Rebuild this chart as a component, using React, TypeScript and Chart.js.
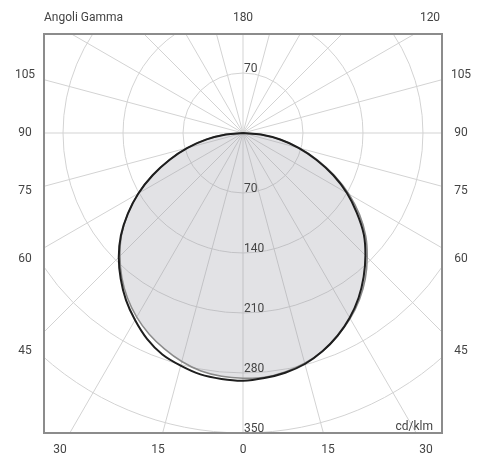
import React, { useEffect, useRef } from "react";
import { Chart, registerables } from "chart.js";

Chart.register(...registerables);

// Gamma angles (degrees from nadir)
const GAMMA = [0, 5, 10, 15, 20, 25, 30, 35, 40, 45, 50, 55, 60, 65, 70, 75, 80, 85, 90];
// Intensities in cd/klm
const BLACK_LEFT = [289, 288, 286, 281, 275, 265, 252, 238, 222, 205, 186, 164, 141, 116, 91, 67, 43, 20, 0];
const BLACK_RIGHT = [289, 287, 284, 279, 271, 261, 249, 235, 219, 202, 184, 162, 140, 116, 91, 67, 44, 21, 0];
const GRAY_LEFT = [286, 285, 282, 276, 268, 259, 248, 235, 220, 203, 185, 164, 141, 117, 92, 68, 44, 21, 0];
const GRAY_RIGHT = [286, 286, 283, 278, 271, 261, 250, 237, 222, 205, 187, 166, 143, 118, 93, 69, 45, 22, 0];

// Grid
const RING_VALUES = [70, 140, 210, 280, 350, 420, 490];
const RING_LABELS_BELOW = [70, 140, 210, 280, 350];
const RING_LABELS_ABOVE = [70];
const SPOKE_STEP = 15;
const SIDE_LABELS = [105, 90, 75, 60, 45];
const BOTTOM_LABELS = [-30, -15, 0, 15, 30];
const TOP_LABEL = "180";
const CORNER_LABEL = "120";
const CORNER_GAMMA = 120;
const TITLE = "Angoli Gamma";
const UNIT = "cd/klm";

// Axis ranges (cd/klm)
const X_MIN = -232.2;
const X_MAX = 232.2;
const Y_MIN = -350;
const Y_MAX = 115.5;

function buildCurve(left: number[], right: number[]) {
  const pts: { x: number; y: number }[] = [];
  for (let i = GAMMA.length - 1; i >= 0; i--) {
    const g = (GAMMA[i] * Math.PI) / 180;
    pts.push({ x: -left[i] * Math.sin(g), y: -left[i] * Math.cos(g) });
  }
  for (let i = 1; i < GAMMA.length; i++) {
    const g = (GAMMA[i] * Math.PI) / 180;
    pts.push({ x: right[i] * Math.sin(g), y: -right[i] * Math.cos(g) });
  }
  return pts;
}

const FONT = '12px Roboto, "DejaVu Sans", sans-serif';
const TEXT_COLOR = "#444";

const polarPlugin = {
  id: "polarGrid",
  beforeDatasetsDraw(chart: any) {
    const { ctx, chartArea: a, scales } = chart;
    const xs = scales.x;
    const ys = scales.y;
    const cx = xs.getPixelForValue(0);
    const cy = ys.getPixelForValue(0);
    const k = xs.getPixelForValue(1) - cx;
    ctx.save();
    ctx.beginPath();
    ctx.rect(a.left, a.top, a.right - a.left, a.bottom - a.top);
    ctx.clip();
    ctx.strokeStyle = "#d3d3d3";
    ctx.lineWidth = 1;
    for (const r of RING_VALUES) {
      ctx.beginPath();
      ctx.arc(cx, cy, r * k, 0, Math.PI * 2);
      ctx.stroke();
    }
    for (let g = 0; g < 360; g += SPOKE_STEP) {
      const t = (g * Math.PI) / 180;
      ctx.beginPath();
      ctx.moveTo(cx, cy);
      ctx.lineTo(cx + 1000 * Math.sin(t), cy + 1000 * Math.cos(t));
      ctx.stroke();
    }
    ctx.restore();
  },
  afterDatasetsDraw(chart: any) {
    const { ctx, chartArea: a, scales } = chart;
    const xs = scales.x;
    const ys = scales.y;
    const cx = xs.getPixelForValue(0);
    const cy = ys.getPixelForValue(0);
    const k = xs.getPixelForValue(1) - cx;
    ctx.save();
    // frame
    ctx.strokeStyle = "#8c8c8c";
    ctx.lineWidth = 2;
    ctx.strokeRect(a.left, a.top, a.right - a.left, a.bottom - a.top);

    ctx.font = FONT;
    ctx.fillStyle = TEXT_COLOR;

    // ring labels
    ctx.textAlign = "left";
    ctx.textBaseline = "alphabetic";
    for (const r of RING_LABELS_BELOW) {
      ctx.fillText(String(r), cx + 1, cy + r * k - 1);
    }
    for (const r of RING_LABELS_ABOVE) {
      ctx.fillText(String(r), cx + 1, cy - r * k - 1);
    }

    // side labels
    ctx.textAlign = "center";
    ctx.textBaseline = "middle";
    const lx = a.left - 19;
    const rx = a.right + 19;
    for (const g of SIDE_LABELS) {
      const t = (g * Math.PI) / 180;
      const dist = (cx - lx) / Math.sin(t);
      const yy = cy + dist * Math.cos(t);
      ctx.fillText(String(g), lx, yy);
      ctx.fillText(String(g), rx, yy);
    }
    // bottom labels
    const by = a.bottom + 17;
    for (const g of BOTTOM_LABELS) {
      const t = (g * Math.PI) / 180;
      const xx = cx + (by - cy) * Math.tan(t);
      ctx.fillText(String(Math.abs(g)), xx, by);
    }
    // top labels
    const ty = a.top - 16;
    ctx.fillText(TOP_LABEL, cx, ty);
    const tc = (CORNER_GAMMA * Math.PI) / 180;
    const cxx = cx + ((ty - cy) / Math.cos(tc)) * Math.sin(tc);
    ctx.fillText(CORNER_LABEL, Math.min(cxx, a.right - 12), ty);
    ctx.textAlign = "left";
    ctx.fillText(TITLE, a.left, ty);
    // unit
    ctx.textAlign = "right";
    ctx.textBaseline = "alphabetic";
    ctx.fillText(UNIT, a.right - 9, a.bottom - 3);
    ctx.restore();
  },
};

export default function App() {
  const ref = useRef<HTMLCanvasElement | null>(null);
  useEffect(() => {
    document.body.style.margin = "0";
    const canvas = ref.current;
    if (!canvas) return;
    const chart = new Chart(canvas, {
      type: "scatter",
      data: {
        datasets: [
          {
            data: buildCurve(BLACK_LEFT, BLACK_RIGHT),
            showLine: true,
            borderColor: "#1e1e1e",
            borderWidth: 2,
            pointRadius: 0,
            tension: 0.35,
            fill: false,
          },
          {
            data: buildCurve(GRAY_LEFT, GRAY_RIGHT),
            showLine: true,
            borderColor: "#8a8a8a",
            borderWidth: 1.5,
            pointRadius: 0,
            tension: 0.35,
            fill: "shape",
            backgroundColor: "rgba(150,150,160,0.28)",
          },
        ],
      },
      options: {
        animation: false,
        responsive: true,
        maintainAspectRatio: false,
        layout: { padding: { left: 44, right: 54, top: 34, bottom: 37 } },
        scales: {
          x: { type: "linear", min: X_MIN, max: X_MAX, display: false },
          y: { type: "linear", min: Y_MIN, max: Y_MAX, display: false },
        },
        plugins: {
          legend: { display: false },
          tooltip: { enabled: false },
        },
      } as any,
      plugins: [polarPlugin],
    });
    return () => chart.destroy();
  }, []);
  return (
    <div style={{ position: "absolute", left: 0, top: 0, width: 496, height: 470, background: "#fff" }}>
      <canvas ref={ref} />
    </div>
  );
}
